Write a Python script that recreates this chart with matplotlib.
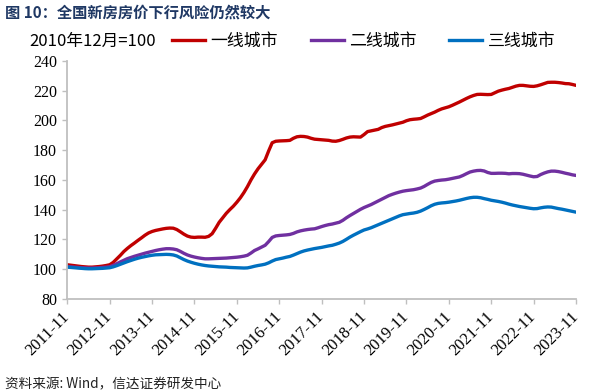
import matplotlib
matplotlib.use("Agg")
import matplotlib.pyplot as plt
from matplotlib.lines import Line2D

# ---- data (monthly index, 2010-12 = 100), 2011-11 .. 2023-11 ----
tick_labels = ["2011-11", "2012-11", "2013-11", "2014-11", "2015-11", "2016-11",
               "2017-11", "2018-11", "2019-11", "2020-11", "2021-11", "2022-11", "2023-11"]
series_names = ["一线城市", "二线城市", "三线城市"]

tier1 = [
    102.9, 102.6, 102.3, 102.0, 101.7, 101.5, 101.3, 101.3, 101.5, 101.7, 102.0, 102.4, 102.9,
    104.5, 106.8, 109.2, 111.8, 113.9, 115.8, 117.5, 119.3, 121.0, 122.8, 124.3, 125.3,
    126.0, 126.5, 127.0, 127.4, 127.6, 127.5, 126.6, 125.1, 123.5, 122.2, 121.5, 121.3,
    121.5, 121.5, 121.4, 122.0, 123.8, 127.5, 131.5, 134.5, 137.5, 140.0, 142.3, 145.0,
    148.0, 151.5, 155.5, 160.0, 164.0, 167.5, 170.5, 173.5, 179.5, 185.0, 186.0, 186.2,
    186.3, 186.4, 186.6, 188.0, 189.0, 189.3, 189.2, 188.8, 188.0, 187.4, 187.2, 187.0,
    186.8, 186.6, 186.1, 186.0, 186.5, 187.3, 188.2, 188.8, 189.0, 188.9, 188.8, 190.5,
    192.5, 193.0, 193.5, 194.0, 195.2, 196.0, 196.5, 197.0, 197.6, 198.2, 198.8, 199.8,
    200.5, 200.8, 201.0, 201.3, 202.4, 203.6, 204.6, 205.6, 206.8, 207.8, 208.5, 209.2,
    210.2, 211.3, 212.4, 213.6, 214.8, 215.9, 216.8, 217.5, 217.6, 217.5, 217.4, 217.5,
    218.6, 219.7, 220.4, 221.0, 221.5, 222.3, 223.1, 223.6, 223.6, 223.3, 223.0, 222.9,
    223.3, 224.0, 224.8, 225.6, 225.7, 225.7, 225.5, 225.2, 224.8, 224.7, 224.2, 223.6,
]
tier2 = [
    101.7, 101.5, 101.3, 101.1, 100.9, 100.8, 100.7, 100.7, 100.8, 100.9, 101.1, 101.3, 101.6,
    102.5, 103.6, 104.8, 105.9, 107.0, 107.8, 108.6, 109.3, 110.0, 110.7, 111.3, 111.9,
    112.5, 113.0, 113.4, 113.7, 113.7, 113.5, 113.0, 111.9, 110.6, 109.5, 108.7, 108.1,
    107.6, 107.2, 106.9, 106.9, 107.0, 107.1, 107.2, 107.3, 107.4, 107.6, 107.8, 108.0,
    108.3, 108.7, 109.3, 110.8, 112.5, 113.6, 114.8, 116.0, 118.5, 121.3, 122.3, 122.6,
    122.8, 123.0, 123.3, 124.0, 125.0, 125.7, 126.2, 126.6, 126.9, 127.1, 127.8, 128.6,
    129.3, 129.9, 130.3, 130.9, 131.5, 132.8, 134.5, 136.0, 137.4, 138.8, 140.2, 141.4,
    142.4, 143.4, 144.6, 145.8, 147.0, 148.2, 149.4, 150.3, 151.1, 151.8, 152.4, 152.8,
    153.1, 153.4, 153.9, 154.5, 155.6, 157.0, 158.3, 159.2, 159.6, 159.9, 160.1, 160.5,
    161.0, 161.5, 162.0, 163.0, 164.2, 165.3, 165.9, 166.3, 166.4, 166.0, 165.0, 164.4,
    164.4, 164.5, 164.5, 164.4, 164.1, 164.3, 164.3, 164.2, 163.8, 163.2, 162.6, 162.1,
    162.3, 163.6, 164.6, 165.4, 165.9, 165.9, 165.6, 165.1, 164.5, 164.0, 163.4, 163.0,
]
tier3 = [
    101.3, 101.1, 100.9, 100.7, 100.5, 100.3, 100.2, 100.2, 100.3, 100.4, 100.5, 100.7, 100.9,
    101.5, 102.3, 103.2, 104.1, 105.0, 105.8, 106.6, 107.3, 107.9, 108.4, 108.9, 109.3,
    109.6, 109.7, 109.8, 109.9, 109.8, 109.5, 108.8, 107.6, 106.4, 105.4, 104.6, 103.9,
    103.3, 102.8, 102.4, 102.1, 101.9, 101.7, 101.5, 101.4, 101.3, 101.1, 101.0, 100.9,
    100.8, 100.7, 100.8, 101.3, 101.9, 102.4, 102.8, 103.3, 104.2, 105.4, 106.4, 106.9,
    107.4, 108.0, 108.5, 109.4, 110.4, 111.4, 112.2, 112.8, 113.3, 113.8, 114.2, 114.6,
    115.1, 115.6, 116.0, 116.7, 117.5, 118.6, 120.0, 121.5, 122.8, 124.0, 125.2, 126.3,
    127.0, 127.8, 128.8, 129.8, 130.8, 131.8, 132.8, 133.8, 134.8, 135.8, 136.6, 137.0,
    137.4, 137.7, 138.2, 139.0, 140.1, 141.3, 142.6, 143.6, 144.2, 144.5, 144.7, 145.0,
    145.4, 145.8, 146.3, 146.9, 147.5, 148.0, 148.3, 148.3, 148.0, 147.4, 146.9, 146.3,
    145.9, 145.5, 145.0, 144.4, 143.7, 143.1, 142.6, 142.1, 141.7, 141.3, 140.9, 140.6,
    140.7, 141.2, 141.6, 141.8, 141.7, 141.2, 140.7, 140.3, 139.8, 139.3, 138.8, 138.3,
]
colors = ["#C00000", "#7030A0", "#0070C0"]

months = list(range(len(tier1)))
tick_pos = [i * 12 for i in range(len(tick_labels))]

cjk = ["Noto Sans CJK SC", "DejaVu Sans"]
serif = "Liberation Serif"

fig = plt.figure(figsize=(6.07, 3.92), dpi=100)
ax = fig.add_axes([67.3 / 607, 1 - 298.8 / 392, (576 - 67.3) / 607, (298.8 - 61) / 392])

for vals, c, name in zip([tier1, tier2, tier3], colors, series_names):
    ax.plot(months, vals, color=c, lw=2.4, label=name, solid_capstyle="round")

ax.set_xlim(0, 144)
ax.set_ylim(80, 240)
ax.set_yticks(range(80, 241, 20))
ax.set_xticks(tick_pos)
ax.set_xticklabels(tick_labels, rotation=45, ha="right", va="center",
                   rotation_mode="anchor", fontfamily=serif, fontsize=12)
for lab in ax.get_yticklabels():
    lab.set_fontfamily(serif)
    lab.set_fontsize(11.5)

gray = "#BFBFBF"
for s in ["top", "right"]:
    ax.spines[s].set_visible(False)
for s in ["left", "bottom"]:
    ax.spines[s].set_color(gray)
    ax.spines[s].set_linewidth(1.3)
ax.tick_params(axis="both", direction="out", length=3.5, width=1, color=gray, labelcolor="black")
ax.tick_params(axis="y", pad=4)
ax.tick_params(axis="x", pad=8)

# title and notes
fig.text(5 / 607, 1 - 12 / 392, "图 10：全国新房房价下行风险仍然较大", family=cjk,
         fontsize=11, fontweight="bold", color="#1F3864", va="center", ha="left")
fig.text(29 / 607, 1 - 41 / 392, "2010年12月=100", family=cjk, fontsize=12,
         va="center", ha="left", color="black")
fig.text(5 / 607, 1 - 384 / 392, "资料来源: Wind，信达证券研发中心", family=cjk,
         fontsize=9.8, style="italic", va="center", ha="left", color="#222222")

handles = [Line2D([0], [0], color=c, lw=2.4) for c in colors]
leg = fig.legend(handles, series_names, loc="center left",
                 bbox_to_anchor=(172 / 607, 1 - 41 / 392), ncol=3, frameon=False,
                 prop={"family": cjk, "size": 12.2}, handlelength=1.95, handletextpad=0.3,
                 columnspacing=1.95, borderpad=0, borderaxespad=0)

fig.savefig("out.png", dpi=100)
